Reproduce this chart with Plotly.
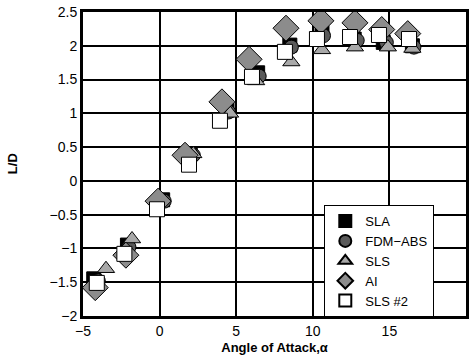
import plotly.graph_objects as go

# Data (angle of attack, L/D)
sla_x = [-4.3, -2.1, 0.2, 2.0, 4.4, 6.4, 8.5, 10.6, 12.7, 14.6, 16.5]
sla_y = [-1.45, -0.95, -0.28, 0.40, 1.05, 1.60, 2.01, 2.19, 2.10, 2.05, 2.00]

fdm_x = [-4.0, -2.0, 0.3, 2.2, 4.5, 6.5, 8.6, 10.7, 12.9, 14.8, 16.6]
fdm_y = [-1.48, -0.98, -0.30, 0.38, 1.02, 1.55, 1.98, 2.15, 2.08, 2.05, 1.98]

sls_x = [-3.5, -1.8, -0.04, 2.2, 4.6, 6.3, 8.6, 10.6, 12.75, 14.9, 16.5]
sls_y = [-1.30, -0.86, -0.25, 0.40, 1.00, 1.48, 1.76, 1.94, 1.98, 1.98, 1.96]

ai_x = [-4.2, -2.2, -0.1, 1.66, 4.07, 5.84, 8.25, 10.53, 12.75, 14.5, 16.2]
ai_y = [-1.58, -1.10, -0.30, 0.38, 1.17, 1.80, 2.26, 2.37, 2.34, 2.24, 2.18]

sls2_x = [-4.1, -2.3, -0.17, 1.92, 3.94, 6.03, 8.18, 10.27, 12.43, 14.32, 16.28]
sls2_y = [-1.51, -1.08, -0.42, 0.24, 0.89, 1.54, 1.91, 2.10, 2.13, 2.16, 2.10]

x_ticks = [-5, 0, 5, 10, 15, 20]
y_ticks = [-2, -1.5, -1, -0.5, 0, 0.5, 1, 1.5, 2, 2.5]

fig = go.Figure()
line = dict(color="black", width=1)
fig.add_trace(go.Scatter(x=sla_x, y=sla_y, mode="markers", name="SLA",
                         marker=dict(symbol="square", size=14, color="black", line=line)))
fig.add_trace(go.Scatter(x=fdm_x, y=fdm_y, mode="markers", name="FDM\u2212ABS",
                         marker=dict(symbol="circle", size=14, color="#5a5a5a", line=line)))
fig.add_trace(go.Scatter(x=sls_x, y=sls_y, mode="markers", name="SLS",
                         marker=dict(symbol="triangle-up", size=15, color="#a8a8a8", line=line)))
fig.add_trace(go.Scatter(x=ai_x, y=ai_y, mode="markers", name="AI",
                         marker=dict(symbol="diamond", size=20, color="#8c8c8c", line=line)))
fig.add_trace(go.Scatter(x=sls2_x, y=sls2_y, mode="markers", name="SLS #2",
                         marker=dict(symbol="square", size=15, color="white", line=line)))

axis_common = dict(showgrid=True, gridcolor="black", gridwidth=1.5,
                   showline=True, linecolor="black", linewidth=3, mirror=True,
                   zeroline=False, ticks="", tickfont=dict(size=14, color="black",
                   family="Liberation Sans, Arial, sans-serif"))

fig.update_xaxes(range=[-5, 20], tickvals=x_ticks,
                 title=dict(text="<b>Angle of Attack,\u03b1</b>", font=dict(size=13, color="black"),
                            standoff=6),
                 **axis_common)
fig.update_yaxes(range=[-2, 2.5], tickvals=y_ticks, **axis_common)

fig.add_annotation(text="<b>L/D</b>", textangle=-90, showarrow=False,
                   xref="paper", yref="paper", x=-0.185, y=0.5,
                   xanchor="center", yanchor="middle",
                   font=dict(size=13, color="black"))

fig.update_layout(
    width=473, height=364,
    margin=dict(l=83, r=7, t=12, b=48, autoexpand=False),
    paper_bgcolor="white", plot_bgcolor="white",
    font=dict(family="Liberation Sans, Arial, sans-serif", color="black"),
    legend=dict(x=0.63, y=0.365, xanchor="left", yanchor="top",
                bgcolor="white", bordercolor="black", borderwidth=1,
                font=dict(size=13), tracegroupgap=0, itemwidth=30,
                itemsizing="constant"),
)

fig.write_html("out.html", config={"displayModeBar": False},
               post_script="document.body.style.margin='0';")
